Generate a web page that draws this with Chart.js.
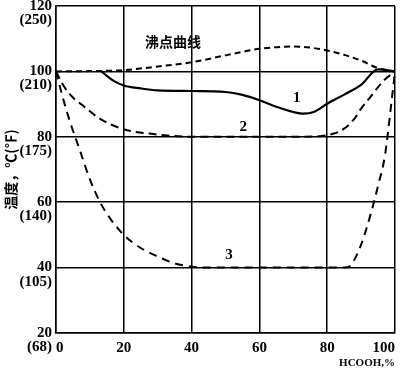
<!DOCTYPE html>
<html lang="zh">
<head>
  <meta charset="UTF-8">
  <title>沸点曲线 - HCOOH</title>
  <script src="https://cdn.jsdelivr.net/npm/chart.js"></script>
  <style>
    body {
      margin: 0;
      background: #fff;
    }
    #wrap {
      width: 400px;
      height: 370px;
    }
  </style>
</head>
<body>
  <div id="wrap"><canvas id="myChart" width="400" height="370"></canvas></div>

  <script>
    // 沸点曲线
    const bpX = [0, 10, 20, 30, 40, 50, 60, 70, 80, 90, 95, 100];
    const bpY = [100, 100.1, 100.4, 101.5, 102.8, 104.9, 106.9, 107.6, 106.4, 103.3, 101, 100];

    // 曲线 1
    const c1X = [13.5, 15, 17, 20, 25, 30, 40, 50, 55, 60, 65, 70, 73, 76, 80, 85, 90, 95, 100];
    const c1Y = [100, 98.6, 97.1, 95.7, 94.8, 94.2, 94, 93.7, 92.8, 91.2, 89.2, 87.6, 87.1, 87.6, 90.1, 92.9, 95.9, 100.6, 100];

    // 曲线 2
    const c2X = [0, 2, 5, 8, 13, 20, 30, 40, 50, 60, 70, 78, 82, 85, 88, 90, 93, 95, 97, 100];
    const c2Y = [100, 96, 92, 89.5, 85.5, 82.3, 80.7, 80, 80, 80, 80, 80.2, 81, 82.5, 85.5, 88.6, 92.5, 95.2, 97.5, 100];

    // 曲线 3
    const c3X = [0, 2, 4, 7, 10, 13, 16, 20, 25, 30, 35, 40, 45, 60, 80, 85, 87, 90, 93, 95, 97, 98, 99, 100];
    const c3Y = [100, 92, 85, 76, 67, 60, 55, 50, 46, 43.4, 41.3, 40.3, 40, 40, 40, 40, 40.8, 47, 57, 65, 74, 82, 91, 100];

    // 刻度标签
    const yTicksC = [20, 40, 60, 80, 100, 120];
    const yTicksF = ['(68)', '(105)', '(140)', '(175)', '(210)', '(250)'];
    const xTicks = [0, 20, 40, 60, 80, 100];

    // 图中文字
    const noteText = ['沸点曲线', '1', '2', '3'];
    const noteX = [34.5, 71, 55.2, 51];
    const noteY = [109.2, 91.8, 83, 43.7];

    function pts(xs, ys) {
      return xs.map((x, i) => ({ x: x, y: ys[i] }));
    }

    const notes = {
      id: 'notes',
      afterDatasetsDraw(chart) {
        const ctx = chart.ctx;
        const sx = chart.scales.x, sy = chart.scales.y;
        ctx.save();
        ctx.fillStyle = '#000';
        ctx.textAlign = 'center';
        ctx.textBaseline = 'middle';
        noteText.forEach((t, i) => {
          ctx.font = i === 0 ? 'bold 14px "Noto Sans CJK SC"' : 'bold 15px "Liberation Serif"';
          ctx.fillText(t, sx.getPixelForValue(noteX[i]), sy.getPixelForValue(noteY[i]));
        });
        ctx.restore();
      }
    };

    const tickFont = { family: 'Liberation Serif', size: 15, weight: 'bold', lineHeight: 0.95 };

    new Chart(document.getElementById('myChart').getContext('2d'), {
      type: 'scatter',
      data: {
        datasets: [
          { data: pts(bpX, bpY), borderDash: [6, 4], borderWidth: 2 },
          { data: pts(c1X, c1Y), borderDash: [], borderWidth: 2.2 },
          { data: pts(c2X, c2Y), borderDash: [8, 5], borderWidth: 2 },
          { data: pts(c3X, c3Y), borderDash: [8, 6], borderWidth: 2 }
        ].map(d => Object.assign(d, {
          showLine: true,
          borderColor: '#000',
          pointRadius: 0,
          cubicInterpolationMode: 'monotone',
          fill: false
        }))
      },
      options: {
        responsive: false,
        animation: false,
        layout: { padding: { top: 6, right: 5, left: 0, bottom: 0 } },
        plugins: {
          legend: { display: false },
          tooltip: { enabled: false }
        },
        scales: {
          x: {
            type: 'linear',
            min: 0,
            max: 100,
            afterBuildTicks: s => { s.ticks = xTicks.map(v => ({ value: v })); },
            afterFit: s => { s.height = 37; s.paddingLeft = 0; s.paddingRight = 0; },
            grid: { color: '#000', lineWidth: 1.5, drawTicks: false },
            border: { color: '#000', width: 1.5 },
            ticks: {
              color: '#000',
              font: tickFont,
              padding: 8,
              align: 'inner',
              maxRotation: 0,
              autoSkip: false
            },
            title: {
              display: true,
              text: 'HCOOH,%',
              align: 'end',
              color: '#000',
              font: { family: 'Liberation Serif', size: 11, weight: 'bold' },
              padding: { top: 0, bottom: 0 }
            }
          },
          y: {
            min: 20,
            max: 120,
            afterBuildTicks: s => { s.ticks = yTicksC.map(v => ({ value: v })); },
            afterFit: s => { s.width = 56; s.paddingTop = 0; s.paddingBottom = 0; },
            grid: { color: '#000', lineWidth: 1.5, drawTicks: false },
            border: { color: '#000', width: 1.5 },
            ticks: {
              color: '#000',
              font: tickFont,
              padding: 4,
              labelOffset: 7,
              autoSkip: false,
              callback: v => [String(v), yTicksF[yTicksC.indexOf(v)]]
            },
            title: {
              display: true,
              text: '温度，℃(℉)',
              color: '#000',
              font: { family: 'Noto Sans CJK SC', size: 14, weight: 'bold' },
              padding: { top: 2, bottom: 0 }
            }
          }
        }
      },
      plugins: [notes]
    });
  </script>
</body>
</html>
